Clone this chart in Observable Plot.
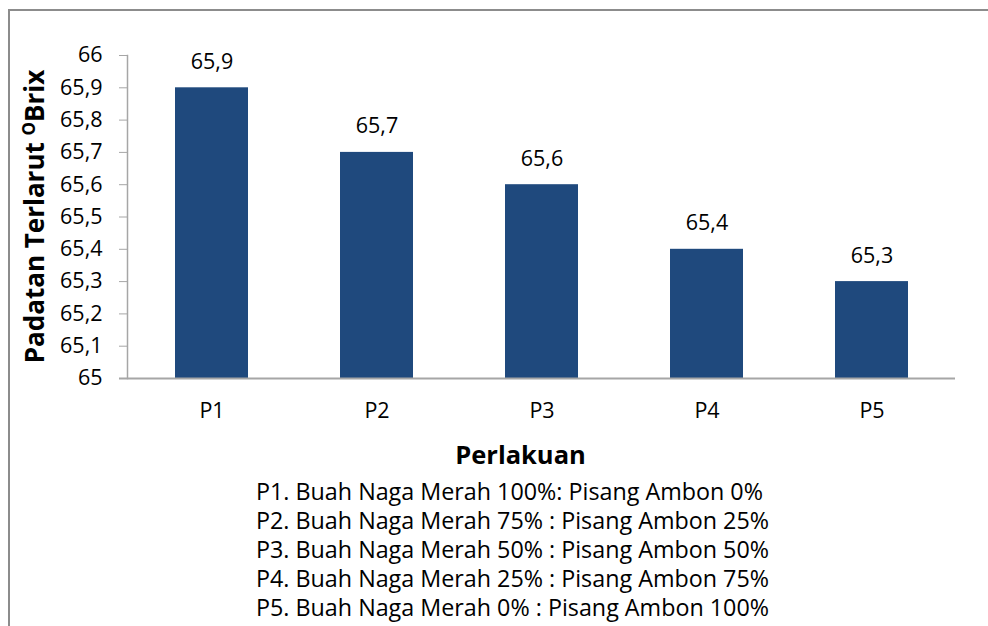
<!DOCTYPE html>
<html><head><meta charset="utf-8">
<script src="https://cdn.jsdelivr.net/npm/d3@7"></script>
<script src="https://cdn.jsdelivr.net/npm/@observablehq/plot@0.6"></script>
<style>
html,body{margin:0;padding:0;background:#fff;overflow:hidden;width:988px;height:626px}
#frame{position:absolute;left:8px;top:9px;width:1100px;height:800px;border:2px solid #8c8c8c;box-sizing:border-box}
#chart{position:absolute;left:0;top:0}
#legend{position:absolute;left:256px;top:477px;font-family:"Open Sans";font-size:23.3px;line-height:29px;color:#000;white-space:nowrap}
</style></head><body>
<div id="frame"></div><div id="chart"></div><div id="legend"></div>
<script>
const categories = ["P1", "P2", "P3", "P4", "P5"];
const values = [65.9, 65.7, 65.6, 65.4, 65.3];
const yTicks = [65, 65.1, 65.2, 65.3, 65.4, 65.5, 65.6, 65.7, 65.8, 65.9, 66];
const baseline = 65;
const yDomain = [65, 66];
const xTitle = "Perlakuan";
const yTitleMain = "Padatan Terlarut ";
const yTitleSup = "O";
const yTitleEnd = "Brix";
const legendLines = [
  "P1. Buah Naga Merah 100%: Pisang Ambon 0%",
  "P2. Buah Naga Merah 75% : Pisang Ambon 25%",
  "P3. Buah Naga Merah 50% : Pisang Ambon 50%",
  "P4. Buah Naga Merah 25% : Pisang Ambon 75%",
  "P5. Buah Naga Merah 0% : Pisang Ambon 100%"
];

const fmt = d => String(+d.toFixed(1)).replace(".", ",");
const data = categories.map((c, i) => ({cat: c, value: values[i]}));

const axisColor = "#a6a6a6";
const plot = Plot.plot({
  width: 988,
  height: 470,
  marginLeft: 127,
  marginRight: 33,
  marginTop: 55,
  marginBottom: 92,
  style: {fontFamily: "Open Sans", fontSize: "21.5px", color: "#000", background: "transparent"},
  x: {domain: categories, paddingInner: 0.56, paddingOuter: 0.28, label: null},
  y: {domain: yDomain, label: null},
  marks: [
    Plot.barY(data, {x: "cat", y1: baseline, y2: "value", fill: "#1f497d"}),
    Plot.text(data, {x: "cat", y: "value", text: d => fmt(d.value), lineAnchor: "bottom", dy: -19, fontSize: 21.5}),
    Plot.axisY({ticks: yTicks, tickFormat: fmt, tickSize: 8, tickPadding: 17, stroke: axisColor, label: null}),
    Plot.axisX({tickSize: 0, tickPadding: 24, label: null}),
    Plot.text([xTitle], {frameAnchor: "bottom", text: d => d, dy: 85, dx: -21, fontWeight: "bold", fontSize: 25.5}),
    Plot.frame({anchor: "left", stroke: axisColor, strokeWidth: 1.5}),
    Plot.ruleY([baseline], {stroke: axisColor, strokeWidth: 2, insetLeft: -8})
  ]
});
document.getElementById("chart").appendChild(plot);

// y axis title with superscript
const svg = d3.select(plot);
const t = svg.append("text")
  .attr("transform", `translate(44,${(55 + 378) / 2}) rotate(-90)`)
  .attr("text-anchor", "middle")
  .attr("font-family", "Open Sans")
  .attr("font-weight", "bold")
  .attr("font-size", 26)
  .attr("fill", "#000");
t.append("tspan").text(yTitleMain);
t.append("tspan").attr("font-size", 17).attr("dy", -9).text(yTitleSup);
t.append("tspan").attr("dy", 9).text(yTitleEnd);

d3.select("#legend").selectAll("div").data(legendLines).join("div").text(d => d);
</script>
</body></html>
